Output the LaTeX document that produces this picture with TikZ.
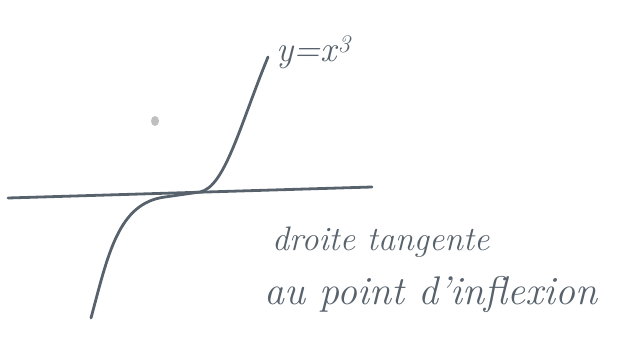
\documentclass[tikz,border=0pt]{standalone}
\usepackage{xcolor}
\definecolor{ink}{RGB}{88,98,108}
\begin{document}
\begin{tikzpicture}[x=1pt,y=-1pt,
  stroke/.style={draw=ink,line width=2.8pt,line cap=round,line join=round},
  hand/.style={text=ink,inner sep=0pt,anchor=base west}]
\useasboundingbox (0,0) rectangle (621,350);
% tangent line
\coordinate (tl) at (8,198);
\coordinate (tr) at (372,187);
\draw[stroke] (tl) -- (tr);
% curve y = x^3
\coordinate (cb) at (91,318);
\coordinate (ci) at (200,192);
\coordinate (ct) at (268,57);
\draw[stroke] (cb) .. controls (108,255) and (118,203) .. (165,197)
  -- (ci) .. controls (225,187) and (240,125) .. (ct);
% smudge
\fill[black!25] (155,121) ellipse (4 and 5);
% labels
\node[hand,font=\fontsize{36}{42}\selectfont\itshape] (lab) at (276,62) {y=x\textsuperscript{\kern1pt 3}};
\node[hand,font=\fontsize{34}{40}\selectfont\itshape] (t1) at (272,250) {droite tangente};
\node[hand,font=\fontsize{40}{46}\selectfont\itshape] (t2) at (264,304) {au point d'inflexion};
\end{tikzpicture}
\end{document}
